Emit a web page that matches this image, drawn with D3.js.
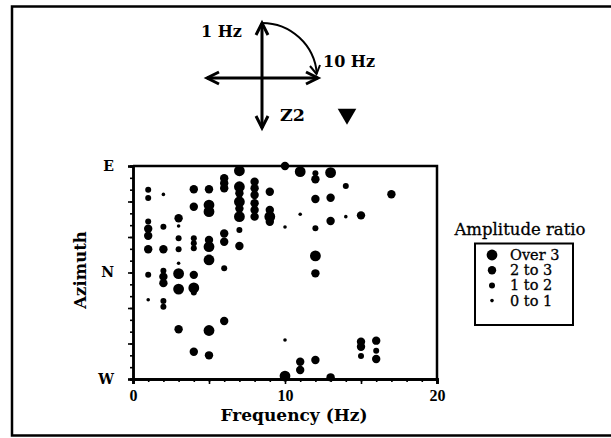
<!DOCTYPE html>
<meta charset="utf-8">
<title>Amplitude ratio vs frequency and azimuth</title>
<style>
	body { margin: 0; background: #fff; }
	text { font-family: "DejaVu Serif", serif; fill: #000; }
	.axis path, .axis line { stroke: #000; }
	.axis path { stroke-width: 2.5px; }
	.axis line { stroke-width: 1.6px; }
	.axis text { font-size: 14px; font-weight: bold; }
	.xaxis text { font-family: "Liberation Serif", serif; font-size: 16px; }
</style>
<body>
<script src="https://d3js.org/d3.v7.min.js"></script>
<script>

var width = 611,
	height = 438;

// frequency (Hz), azimuth (deg, E=90 N=0 W=-90), amplitude class (0 = 0 to 1 ... 3 = over 3)
var freqHz = [
	1,1,1,1,1,1,1,1,
	2,2,2,2,2,2,2,2,
	3,3,3,3,3,3,3,3,
	4,4,4,4,4,4,4,4,4,
	5,5,5,5,5,5,5,5,
	6,6,6,6,6,6,6,
	7,7,7,7,7,7,7,7,
	8,8,8,8,8,8,
	9,9,9,9,
	10,10,10,10,
	11,11,11,11,
	12,12,12,12,12,12,12,
	13,13,13,13,
	14,14,
	15,15,15,15,
	16,16,16,
	17];
var azimuthDeg = [
	70,63,43,37,31,19.6,-2,-23,
	66,38.7,19.6,1.5,-3.5,-9,-24,-29,
	45.8,39.3,29,19.6,7.8,-1,-14,-48,
	70.3,55.6,29,24.7,20.5,-2,-13,-67,-17,
	70.3,57,51.4,27.5,21.8,10.6,-49,-70,
	79.6,75.4,71.2,33,26,3.6,-41,
	86,72.5,66.9,59.8,54,47.2,35.9,22.4,
	76.7,71.2,65.5,58.5,52.8,47.2,
	68.3,52.8,47.2,42.9,
	90,38.5,-57,-87.5,
	85.2,49.2,-75.4,-82.4,
	83.8,78.8,62.1,37.3,14,-0.7,-73.9,
	84.4,63.2,43.5,-88.6,
	73.1,47.2,
	48.3,-58.5,-62.7,-70.6,
	-57.6,-66.1,-73.1,
	66.1];
var ampClass = [
	1,1,1,2,2,2,1,0,
	0,1,2,1,2,2,1,1,
	2,0,1,1,0,3,3,2,
	2,2,1,1,1,2,3,2,1,
	2,3,3,2,3,3,3,2,
	2,2,2,2,2,1,2,
	3,3,2,3,2,3,1,2,
	2,2,2,2,2,2,
	2,2,3,2,
	2,0,0,3,
	3,0,2,2,
	1,2,2,1,3,2,2,
	3,2,2,2,
	1,0,
	2,2,2,1,
	2,1,2,
	2];

var legendLabels = ["Over 3", "2 to 3", "1 to 2", "0 to 1"];
var legendClasses = [3, 2, 1, 0];
var xMajorTicks = [0, 10, 20];
var xMidTicks = [5, 15];
var yMajorTicks = [-90, -60, -30, 0, 30, 60, 90];
var yNames = {"90": "E", "0": "N", "-90": "W"};

var svg = d3.select("body").append("svg")
	.attr("width", width)
	.attr("height", height);

// outer frame
svg.append("rect")
	.attr("x", 12).attr("y", 6.5)
	.attr("width", 620).attr("height", 429)
	.attr("fill", "none").attr("stroke", "#000").attr("stroke-width", 2.5);

var x = d3.scaleLinear().domain([0, 20]).range([133, 437]);
var y = d3.scaleLinear().domain([-90, 90]).range([379, 166]);
var r = d3.scaleLinear().domain([0, 3]).range([1.8, 5.4]);

// axes
svg.append("g").attr("class", "axis")
	.attr("transform", "translate(0,379)")
	.call(d3.axisBottom(x).tickValues(d3.range(0, 21)).tickSize(3).tickFormat(""));
svg.append("g").attr("class", "axis")
	.attr("transform", "translate(0,379)")
	.call(d3.axisBottom(x).tickValues(xMidTicks).tickSize(5).tickFormat(""));
svg.append("g").attr("class", "axis xaxis")
	.attr("transform", "translate(0,379)")
	.call(d3.axisBottom(x).tickValues(xMajorTicks).tickSize(5).tickPadding(6).tickFormat(d3.format("d")));

svg.append("g").attr("class", "axis")
	.attr("transform", "translate(133,0)")
	.call(d3.axisLeft(y).tickValues(d3.range(-90, 91, 10)).tickSize(3).tickFormat(""));
svg.append("g").attr("class", "axis")
	.attr("transform", "translate(133,0)")
	.call(d3.axisLeft(y).tickValues(yMajorTicks).tickSize(5).tickPadding(14)
		.tickFormat(function(d) { return yNames[d] || ""; }));

// top and right frame lines of the plot
svg.append("path")
	.attr("d", "M133," + y(90) + "H437V" + y(-90))
	.attr("fill", "none").attr("stroke", "#000").attr("stroke-width", 2.5);

// points
var pts = freqHz.map(function(f, i) { return {f: f, az: azimuthDeg[i], c: ampClass[i]}; });
svg.append("g").selectAll("circle")
	.data(pts)
	.enter().append("circle")
	.attr("cx", function(d) { return x(d.f); })
	.attr("cy", function(d) { return y(d.az); })
	.attr("r", function(d) { return r(d.c); })
	.attr("fill", "#000");

// axis titles
svg.append("text")
	.attr("x", 294).attr("y", 421)
	.attr("text-anchor", "middle")
	.style("font-size", "17px").style("font-weight", "bold")
	.text("Frequency (Hz)");
svg.append("text")
	.attr("transform", "translate(86,270) rotate(-90)")
	.attr("text-anchor", "middle")
	.style("font-size", "16.5px").style("font-weight", "bold")
	.text("Azimuth");

// legend
svg.append("text")
	.attr("x", 520).attr("y", 235)
	.attr("text-anchor", "middle")
	.style("font-size", "16.5px")
	.attr("stroke", "#000").attr("stroke-width", 0.3)
	.text("Amplitude ratio");
svg.append("rect")
	.attr("x", 475).attr("y", 243.5)
	.attr("width", 98).attr("height", 81.5)
	.attr("fill", "none").attr("stroke", "#000").attr("stroke-width", 2);
var leg = svg.append("g").selectAll("g")
	.data(legendClasses)
	.enter().append("g")
	.attr("transform", function(d, i) { return "translate(492," + (255 + i * 15.2) + ")"; });
leg.append("circle")
	.attr("r", function(d) { return r(d); })
	.attr("fill", "#000");
leg.append("text")
	.attr("x", 18).attr("y", 5)
	.style("font-size", "14.5px")
	.attr("stroke", "#000").attr("stroke-width", 0.3)
	.text(function(d, i) { return legendLabels[i]; });

// orientation diagram
var cx = 262, cy = 78, R = 55;
var arrow = svg.append("g")
	.attr("fill", "none").attr("stroke", "#000").attr("stroke-width", 3);
arrow.append("path").attr("d", "M" + cx + "," + (cy - R) + "V128");
arrow.append("path").attr("d", "M207," + cy + "H318");
// chevrons
arrow.append("path").attr("d", "M" + (cx - 6) + "," + (cy - R + 12) + "L" + cx + "," + (cy - R) + "L" + (cx + 6) + "," + (cy - R + 12));
arrow.append("path").attr("d", "M" + (cx - 6) + ",116L" + cx + ",128L" + (cx + 6) + ",116");
arrow.append("path").attr("d", "M219," + (cy - 6) + "L207," + cy + "L219," + (cy + 6));
arrow.append("path").attr("d", "M306," + (cy - 6) + "L318," + cy + "L306," + (cy + 6));
var p = d3.path();
p.arc(cx, cy, R, -Math.PI / 2, -0.08);
arrow.append("path").attr("d", p.toString()).attr("stroke-width", 2);
arrow.append("path").attr("d", "M310,66L316.5,74L320,65").attr("stroke-width", 2);

svg.append("text").attr("x", 201).attr("y", 37)
	.style("font-size", "16px").style("font-weight", "bold").text("1 Hz");
svg.append("text").attr("x", 323).attr("y", 67)
	.style("font-size", "16px").style("font-weight", "bold").text("10 Hz");
svg.append("text").attr("x", 280).attr("y", 121)
	.style("font-size", "17.5px").style("font-weight", "bold").text("Z2");
svg.append("path")
	.attr("d", d3.symbol().type(d3.symbolTriangle).size(150)())
	.attr("transform", "translate(347,114) rotate(180)")
	.attr("fill", "#000");

</script>
